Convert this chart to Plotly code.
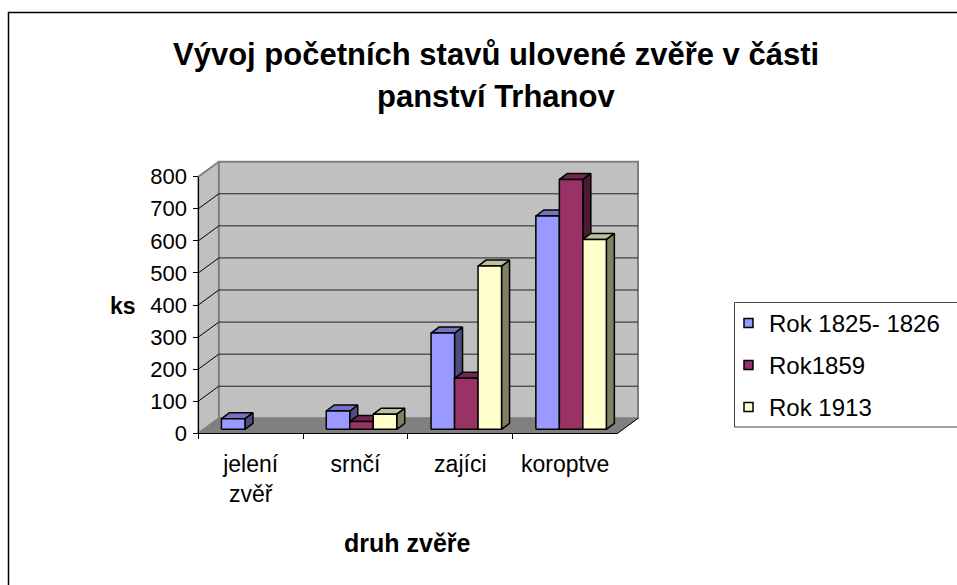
import plotly.graph_objects as go

# ---------------- data ----------------
categories = ["jelení<br>zvěř", "srnčí", "zajíci", "koroptve"]
series_names = ["Rok 1825- 1826", "Rok1859", "Rok 1913"]
rok_1825_1826 = [33, 57, 300, 665]
rok_1859 = [None, 24, 159, 779]
rok_1913 = [None, 47, 509, 592]
y_ticks = [0, 100, 200, 300, 400, 500, 600, 700, 800]
title_lines = ["Vývoj početních stavů ulovené zvěře v části", "panství Trhanov"]
x_title = "druh zvěře"
y_title = "ks"

series = [rok_1825_1826, rok_1859, rok_1913]
front_colors = ["#9999FF", "#993366", "#FFFFCC"]
top_colors = ["#7373BF", "#73264D", "#BFBF99"]
side_colors = ["#4D4D80", "#4D1A33", "#808066"]

# ---------------- geometry (pixels -> data units) ----------------
W, H = 957, 585
L, R, T, B = 188, 642, 156, 440          # main plot box in px
X0, Y0 = 198.3, 433.3                    # px of (x=-0.5, y=0) front corner
PXX = 104.8                              # px per category
PYY = 256.6 / 800                        # px per value unit
YMAX = 800

xa = -0.5 - (X0 - L) / PXX
xb = -0.5 + (R - X0) / PXX
ya = -(B - Y0) / PYY
yb = (Y0 - T) / PYY

DX = 20.5 / PXX          # wall depth in x units
DY = 15.0 / PYY          # wall depth in y units
BDX = 8.0 / PXX          # bar depth
BDY = 6.0 / PYY
FX = 6.0 / PXX           # bar front-face shift into depth
FY = 4.0 / PYY
BW = 23.5 / PXX          # bar width
GH = 1.5 * BW            # group half width


def fx(px):
    return (px - L) / (R - L)


def fy(py):
    return (B - py) / (B - T)


fig = go.Figure()


def poly(xs, ys, fill, line_color, lw):
    fig.add_trace(go.Scatter(
        x=list(xs) + [xs[0]], y=list(ys) + [ys[0]], mode="lines",
        fill="toself", fillcolor=fill,
        line=dict(color=line_color, width=lw),
        hoverinfo="skip", showlegend=False))


def segs(pairs, color, lw):
    xs, ys = [], []
    for (x1, y1, x2, y2) in pairs:
        xs += [x1, x2, None]
        ys += [y1, y2, None]
    fig.add_trace(go.Scatter(x=xs, y=ys, mode="lines",
                             line=dict(color=color, width=lw),
                             hoverinfo="skip", showlegend=False))


n = len(categories)
left, right = -0.5, n - 0.5

# back wall
poly([left + DX, right + DX, right + DX, left + DX],
     [DY, DY, YMAX + DY, YMAX + DY], "#C0C0C0", "#808080", 2)
# side wall
poly([left, left, left + DX, left + DX],
     [0, YMAX, YMAX + DY, DY], "#C0C0C0", "#808080", 2)
# floor
poly([left, right, right + DX, left + DX],
     [0, 0, DY, DY], "#808080", "#808080", 1)

# gridlines
grid = []
for v in y_ticks[1:-1]:
    grid.append((left + DX, v + DY, right + DX, v + DY))
segs(grid, "#222222", 1)
segs([(left, v, left + DX, v + DY) for v in y_ticks[1:-1]], "#000000", 1)
segs([(right, 0, right + DX, DY)], "#000000", 1)

# bars (left to right)
for ci in range(n):
    for si, vals in enumerate(series):
        v = vals[ci]
        if v is None:
            continue
        x1 = ci - GH + si * BW + FX
        x2 = x1 + BW
        y1 = FY
        y2 = FY + v
        # side face
        poly([x2, x2 + BDX, x2 + BDX, x2], [y1, y1 + BDY, y2 + BDY, y2],
             side_colors[si], "#000000", 1.5)
        # top face
        poly([x1, x2, x2 + BDX, x1 + BDX], [y2, y2, y2 + BDY, y2 + BDY],
             top_colors[si], "#000000", 1.5)
        # front face
        poly([x1, x2, x2, x1], [y1, y1, y2, y2],
             front_colors[si], "#000000", 1.5)

# invisible trace carrying the front (category / value) axes
fig.add_trace(go.Scatter(x=categories, y=[0] * n, xaxis="x2", yaxis="y2",
                         mode="markers", marker=dict(opacity=0),
                         hoverinfo="skip", showlegend=False))

FONT = "Arial, Liberation Sans, sans-serif"

fig.update_layout(
    width=W, height=H, autosize=False,
    margin=dict(l=L, r=W - R, t=T, b=H - B, pad=0),
    paper_bgcolor="white", plot_bgcolor="rgba(0,0,0,0)",
    showlegend=False,
    font=dict(family=FONT, color="black"),
    xaxis=dict(range=[xa, xb], visible=False, fixedrange=True),
    yaxis=dict(range=[ya, yb], visible=False, fixedrange=True),
    xaxis2=dict(domain=[fx(X0), fx(X0 + n * PXX)], anchor="free",
                position=fy(Y0), type="category",
                categoryorder="array", categoryarray=categories,
                range=[-0.5, n - 0.5], tickson="boundaries",
                ticks="outside", ticklen=5, tickcolor="black",
                showline=True, linecolor="black", linewidth=1,
                showgrid=False, zeroline=False, ticklabelstandoff=10,
                fixedrange=True,
                tickfont=dict(size=23, family=FONT, color="black")),
    yaxis2=dict(domain=[fy(Y0), fy(Y0 - YMAX * PYY)], anchor="free",
                position=fx(X0), range=[0, YMAX], tickvals=y_ticks,
                ticks="outside", ticklen=5, tickcolor="black",
                showline=True, linecolor="black", linewidth=1,
                showgrid=False, zeroline=False, ticklabelstandoff=2,
                fixedrange=True,
                tickfont=dict(size=22, family=FONT, color="black")),
)

ann = []
for txt, py in zip(title_lines, [55, 97]):
    ann.append(dict(text="<b>%s</b>" % txt, x=fx(496), y=fy(py),
                    xref="paper", yref="paper", xanchor="center",
                    yanchor="middle", showarrow=False,
                    font=dict(size=31, family=FONT, color="black")))
ann.append(dict(text="<b>%s</b>" % y_title, x=fx(123), y=fy(306),
                xref="paper", yref="paper", xanchor="center",
                yanchor="middle", showarrow=False,
                font=dict(size=23, family=FONT, color="black")))
ann.append(dict(text="<b>%s</b>" % x_title, x=fx(407), y=fy(543),
                xref="paper", yref="paper", xanchor="center",
                yanchor="middle", showarrow=False,
                font=dict(size=25, family=FONT, color="black")))

shapes = []
# chart border (top and left visible)
shapes.append(dict(type="rect", xref="paper", yref="paper",
                   x0=fx(8.5), x1=fx(970), y0=fy(12.5), y1=fy(600),
                   line=dict(color="black", width=1.5), fillcolor="rgba(0,0,0,0)",
                   layer="above"))
# legend
shapes.append(dict(type="rect", xref="paper", yref="paper",
                   x0=fx(734.5), x1=fx(970), y0=fy(302.5), y1=fy(427),
                   line=dict(color="#404040", width=1), fillcolor="white",
                   layer="above"))
for i, (name, py) in enumerate(zip(series_names, [323, 365, 407])):
    shapes.append(dict(type="rect", xref="paper", yref="paper",
                       x0=fx(744), x1=fx(753), y0=fy(py - 4.5), y1=fy(py + 4.5),
                       line=dict(color="black", width=1.5),
                       fillcolor=front_colors[i], layer="above"))
    ann.append(dict(text=name, x=fx(767), y=fy(py), xref="paper",
                    yref="paper", xanchor="left", yanchor="middle",
                    showarrow=False,
                    font=dict(size=24, family=FONT, color="black")))

fig.update_layout(annotations=ann, shapes=shapes)

fig.write_html("out.html",
               config={"displayModeBar": False},
               post_script="document.body.style.margin='0';"
                           "document.body.style.overflow='hidden';")
